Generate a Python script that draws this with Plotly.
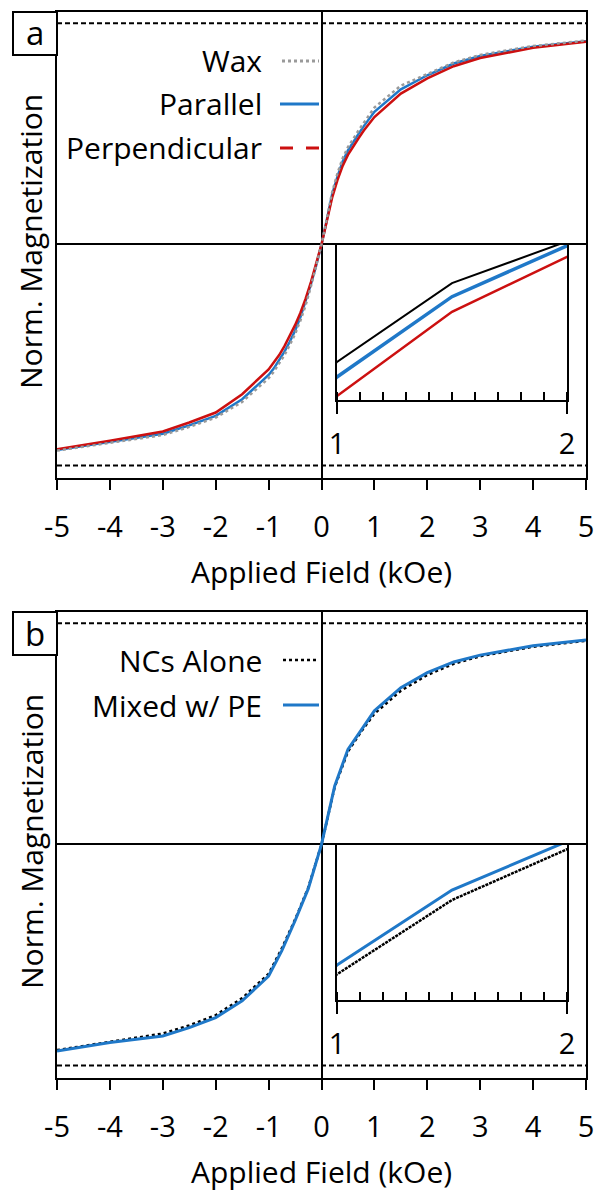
import plotly.graph_objects as go

W, H = 598, 1192
FONT = "Open Sans"

# Panel a: applied field (kOe) and normalized magnetization
field_a = [-5, -4, -3, -2.5, -2, -1.5, -1, -0.9, -0.8, -0.7, -0.6, -0.5, -0.4, -0.3, -0.2, -0.1, 0,
           0.1, 0.2, 0.3, 0.4, 0.5, 0.6, 0.7, 0.8, 0.9, 1, 1.5, 2, 2.5, 3, 4, 5]
wax = [-0.932, -0.897, -0.862, -0.825, -0.783, -0.712, -0.605, -0.575, -0.54, -0.50, -0.455,
       -0.405, -0.345, -0.275, -0.19, -0.10, 0,
       0.115, 0.235, 0.32, 0.39, 0.44, 0.48, 0.515, 0.55, 0.585, 0.619, 0.718, 0.772, 0.823,
       0.857, 0.897, 0.922]
parallel = [-0.93, -0.893, -0.856, -0.818, -0.775, -0.70, -0.59, -0.56, -0.525, -0.485, -0.44,
            -0.39, -0.33, -0.26, -0.18, -0.095, 0,
            0.11, 0.225, 0.305, 0.375, 0.425, 0.465, 0.50, 0.535, 0.567, 0.600, 0.701, 0.765,
            0.818, 0.852, 0.894, 0.919]
perpendicular = [-0.926, -0.888, -0.846, -0.805, -0.76, -0.677, -0.565, -0.535, -0.50, -0.46, -0.415,
                 -0.365, -0.31, -0.245, -0.17, -0.09, 0,
                 0.105, 0.21, 0.29, 0.355, 0.405, 0.445, 0.48, 0.515, 0.545, 0.576, 0.682, 0.751,
                 0.806, 0.843, 0.889, 0.917]

# Panel b: applied field (kOe) and normalized magnetization
field_b = [-5, -4, -3, -2.5, -2, -1.5, -1, -0.75, -0.5, -0.25, 0,
           0.25, 0.5, 0.75, 1, 1.5, 2, 2.5, 3, 4, 5]
ncs_alone = [-0.93, -0.892, -0.855, -0.818, -0.772, -0.695, -0.585, -0.47, -0.34, -0.195, 0,
             0.26, 0.42, 0.51, 0.591, 0.695, 0.766, 0.817, 0.851, 0.894, 0.921]
mixed_pe = [-0.934, -0.896, -0.866, -0.828, -0.783, -0.707, -0.595, -0.48, -0.345, -0.2, 0,
            0.265, 0.43, 0.52, 0.604, 0.709, 0.777, 0.825, 0.856, 0.898, 0.925]

main_ticks = [-5, -4, -3, -2, -1, 0, 1, 2, 3, 4, 5]
inset_ticks = [1, 2]
inset_range_a = [0.571, 0.766]
inset_range_b = [0.555, 0.772]

BLUE = "#1f78c8"
RED = "#cc1010"
GREY = "#9a9a9a"


def px(x):
    return x / W


def py(y):
    return 1 - y / H


fig = go.Figure()

# panel a: main curves
fig.add_trace(go.Scatter(x=field_a, y=parallel, mode="lines", line=dict(color=BLUE, width=2.5),
                         xaxis="x", yaxis="y", showlegend=False))
fig.add_trace(go.Scatter(x=field_a, y=perpendicular, mode="lines", line=dict(color=RED, width=2.5),
                         xaxis="x", yaxis="y", showlegend=False))
fig.add_trace(go.Scatter(x=field_a, y=wax, mode="lines", line=dict(color=GREY, width=2.5, dash="dot"),
                         xaxis="x", yaxis="y", showlegend=False))
# panel a: inset 1-2 kOe
fig.add_trace(go.Scatter(x=field_a, y=wax, mode="lines", line=dict(color="black", width=2),
                         xaxis="x2", yaxis="y2", showlegend=False))
fig.add_trace(go.Scatter(x=field_a, y=parallel, mode="lines", line=dict(color=BLUE, width=3.5),
                         xaxis="x2", yaxis="y2", showlegend=False))
fig.add_trace(go.Scatter(x=field_a, y=perpendicular, mode="lines", line=dict(color=RED, width=2.5),
                         xaxis="x2", yaxis="y2", showlegend=False))

# panel b: main curves
fig.add_trace(go.Scatter(x=field_b, y=ncs_alone, mode="lines", line=dict(color="black", width=2.5, dash="dot"),
                         xaxis="x3", yaxis="y3", showlegend=False))
fig.add_trace(go.Scatter(x=field_b, y=mixed_pe, mode="lines", line=dict(color=BLUE, width=3),
                         xaxis="x3", yaxis="y3", showlegend=False))
# panel b: inset
fig.add_trace(go.Scatter(x=field_b, y=ncs_alone, mode="lines", line=dict(color="black", width=2.5, dash="3px,1px"),
                         xaxis="x4", yaxis="y4", showlegend=False))
fig.add_trace(go.Scatter(x=field_b, y=mixed_pe, mode="lines", line=dict(color=BLUE, width=3),
                         xaxis="x4", yaxis="y4", showlegend=False))

# panel geometry (pixels)
PLOT_L, PLOT_R = 57, 586
INS_L, INS_R = 337, 567
panels = [
    dict(top=12, bot=478, ins_top=245, ins_bot=400),
    dict(top=612, bot=1078, ins_top=845, ins_bot=1000),
]
y_main_range = [-1.056, 1.051]

tick_font = dict(family=FONT, size=29, color="black")
text_size = 30

layout = dict(
    template="none",
    width=W, height=H, autosize=False,
    margin=dict(l=0, r=0, t=0, b=0, pad=0),
    paper_bgcolor="white", plot_bgcolor="rgba(0,0,0,0)",
    font=dict(family=FONT, color="black"),
    showlegend=False,
)

for i, p in enumerate(panels):
    mx = "xaxis" if i == 0 else "xaxis3"
    my = "yaxis" if i == 0 else "yaxis3"
    ix = "xaxis2" if i == 0 else "xaxis4"
    iy = "yaxis2" if i == 0 else "yaxis4"
    mxr = "x" if i == 0 else "x3"
    myr = "y" if i == 0 else "y3"
    ixr = "x2" if i == 0 else "x4"
    iyr = "y2" if i == 0 else "y4"
    ovl = "xaxis5" if i == 0 else "xaxis6"

    layout[mx] = dict(domain=[px(PLOT_L), px(PLOT_R)], range=[-5, 5], anchor=myr, automargin=False,
                      showline=True, linecolor="black", linewidth=2, mirror=True,
                      ticks="outside", ticklen=10, tickwidth=2, tickcolor="black",
                      tickvals=main_ticks, ticktext=[str(t) for t in main_ticks],
                      ticklabelstandoff=12,
                      tickfont=tick_font, showgrid=False,
                      zeroline=True, zerolinecolor="black", zerolinewidth=2)
    layout[ovl] = dict(overlaying=mxr, anchor=myr, range=[-5, 5], showline=False, automargin=False,
                       ticks="inside", dtick=0.2, tick0=0, ticklen=10, tickwidth=1.5, tickcolor="black",
                       showticklabels=False, showgrid=False, zeroline=False)
    layout[my] = dict(domain=[py(p["bot"]), py(p["top"])], range=y_main_range, anchor=mxr, automargin=False,
                      showline=True, linecolor="black", linewidth=2, mirror=True,
                      ticks="", showticklabels=False, showgrid=False,
                      zeroline=True, zerolinecolor="black", zerolinewidth=2)
    layout[ix] = dict(domain=[px(INS_L), px(INS_R)], range=[1, 2], anchor=iyr, automargin=False,
                      showline=True, linecolor="black", linewidth=2, mirror=True,
                      ticks="outside", ticklen=12, tickwidth=2, tickcolor="black",
                      tickvals=inset_ticks, ticktext=[str(t) for t in inset_ticks],
                      ticklabelstandoff=5,
                      minor=dict(ticks="inside", dtick=0.1, tick0=1, ticklen=8, tickwidth=1.5, tickcolor="black"),
                      tickfont=tick_font, showgrid=False, zeroline=False)
    layout[iy] = dict(domain=[py(p["ins_bot"]), py(p["ins_top"])], automargin=False,
                      range=inset_range_a if i == 0 else inset_range_b, anchor=ixr,
                      showline=True, linecolor="black", linewidth=2, mirror=True,
                      ticks="", showticklabels=False, showgrid=False, zeroline=False)

fig.update_layout(**layout)

shapes = []
annotations = []
for i, p in enumerate(panels):
    mxr = "x" if i == 0 else "x3"
    myr = "y" if i == 0 else "y3"
    # saturation reference lines at +/-1
    for level in (1, -1):
        shapes.append(dict(type="line", xref=mxr, yref=myr, x0=-5, x1=5, y0=level, y1=level,
                           line=dict(color="black", width=2, dash="5px,3px")))
    # panel letter box
    shapes.append(dict(type="rect", xref="paper", yref="paper",
                       x0=px(13), x1=px(PLOT_L), y0=py(p["top"] + 43), y1=py(p["top"]),
                       line=dict(color="black", width=2), fillcolor="white"))
    annotations.append(dict(text="a" if i == 0 else "b", xref="paper", yref="paper",
                            x=px(35), y=py(p["top"] + 21), showarrow=False,
                            font=dict(family=FONT, size=33), xanchor="center", yanchor="middle"))
    annotations.append(dict(text="Norm. Magnetization", xref="paper", yref="paper",
                            x=px(31), y=py(p["top"] + 230), textangle=-90, showarrow=False,
                            font=dict(family=FONT, size=text_size), xanchor="center", yanchor="middle"))
    annotations.append(dict(text="Applied Field (kOe)", xref="paper", yref="paper",
                            x=px(321), y=py(p["top"] + 559), showarrow=False,
                            font=dict(family=FONT, size=text_size), xanchor="center", yanchor="middle"))

# legend entries: label on the left, line sample on the right
legend_a = [("Wax", 61, dict(color=GREY, width=3, dash="dot"), 282),
            ("Parallel", 104, dict(color=BLUE, width=3), 280),
            ("Perpendicular", 148, dict(color=RED, width=3, dash="13px,13px"), 280)]
legend_b = [("NCs Alone", 660, dict(color="black", width=2.5, dash="dot"), 283),
            ("Mixed w/ PE", 705, dict(color=BLUE, width=3), 283)]
for name, yc, line, x0 in legend_a + legend_b:
    annotations.append(dict(text=name, xref="paper", yref="paper", x=px(264), y=py(yc),
                            showarrow=False, font=dict(family=FONT, size=text_size),
                            xanchor="right", yanchor="middle"))
    shapes.append(dict(type="line", xref="paper", yref="paper", x0=px(x0), x1=px(319),
                       y0=py(yc), y1=py(yc), line=line))

fig.update_layout(shapes=shapes, annotations=annotations)
fig.write_html("out.html")
